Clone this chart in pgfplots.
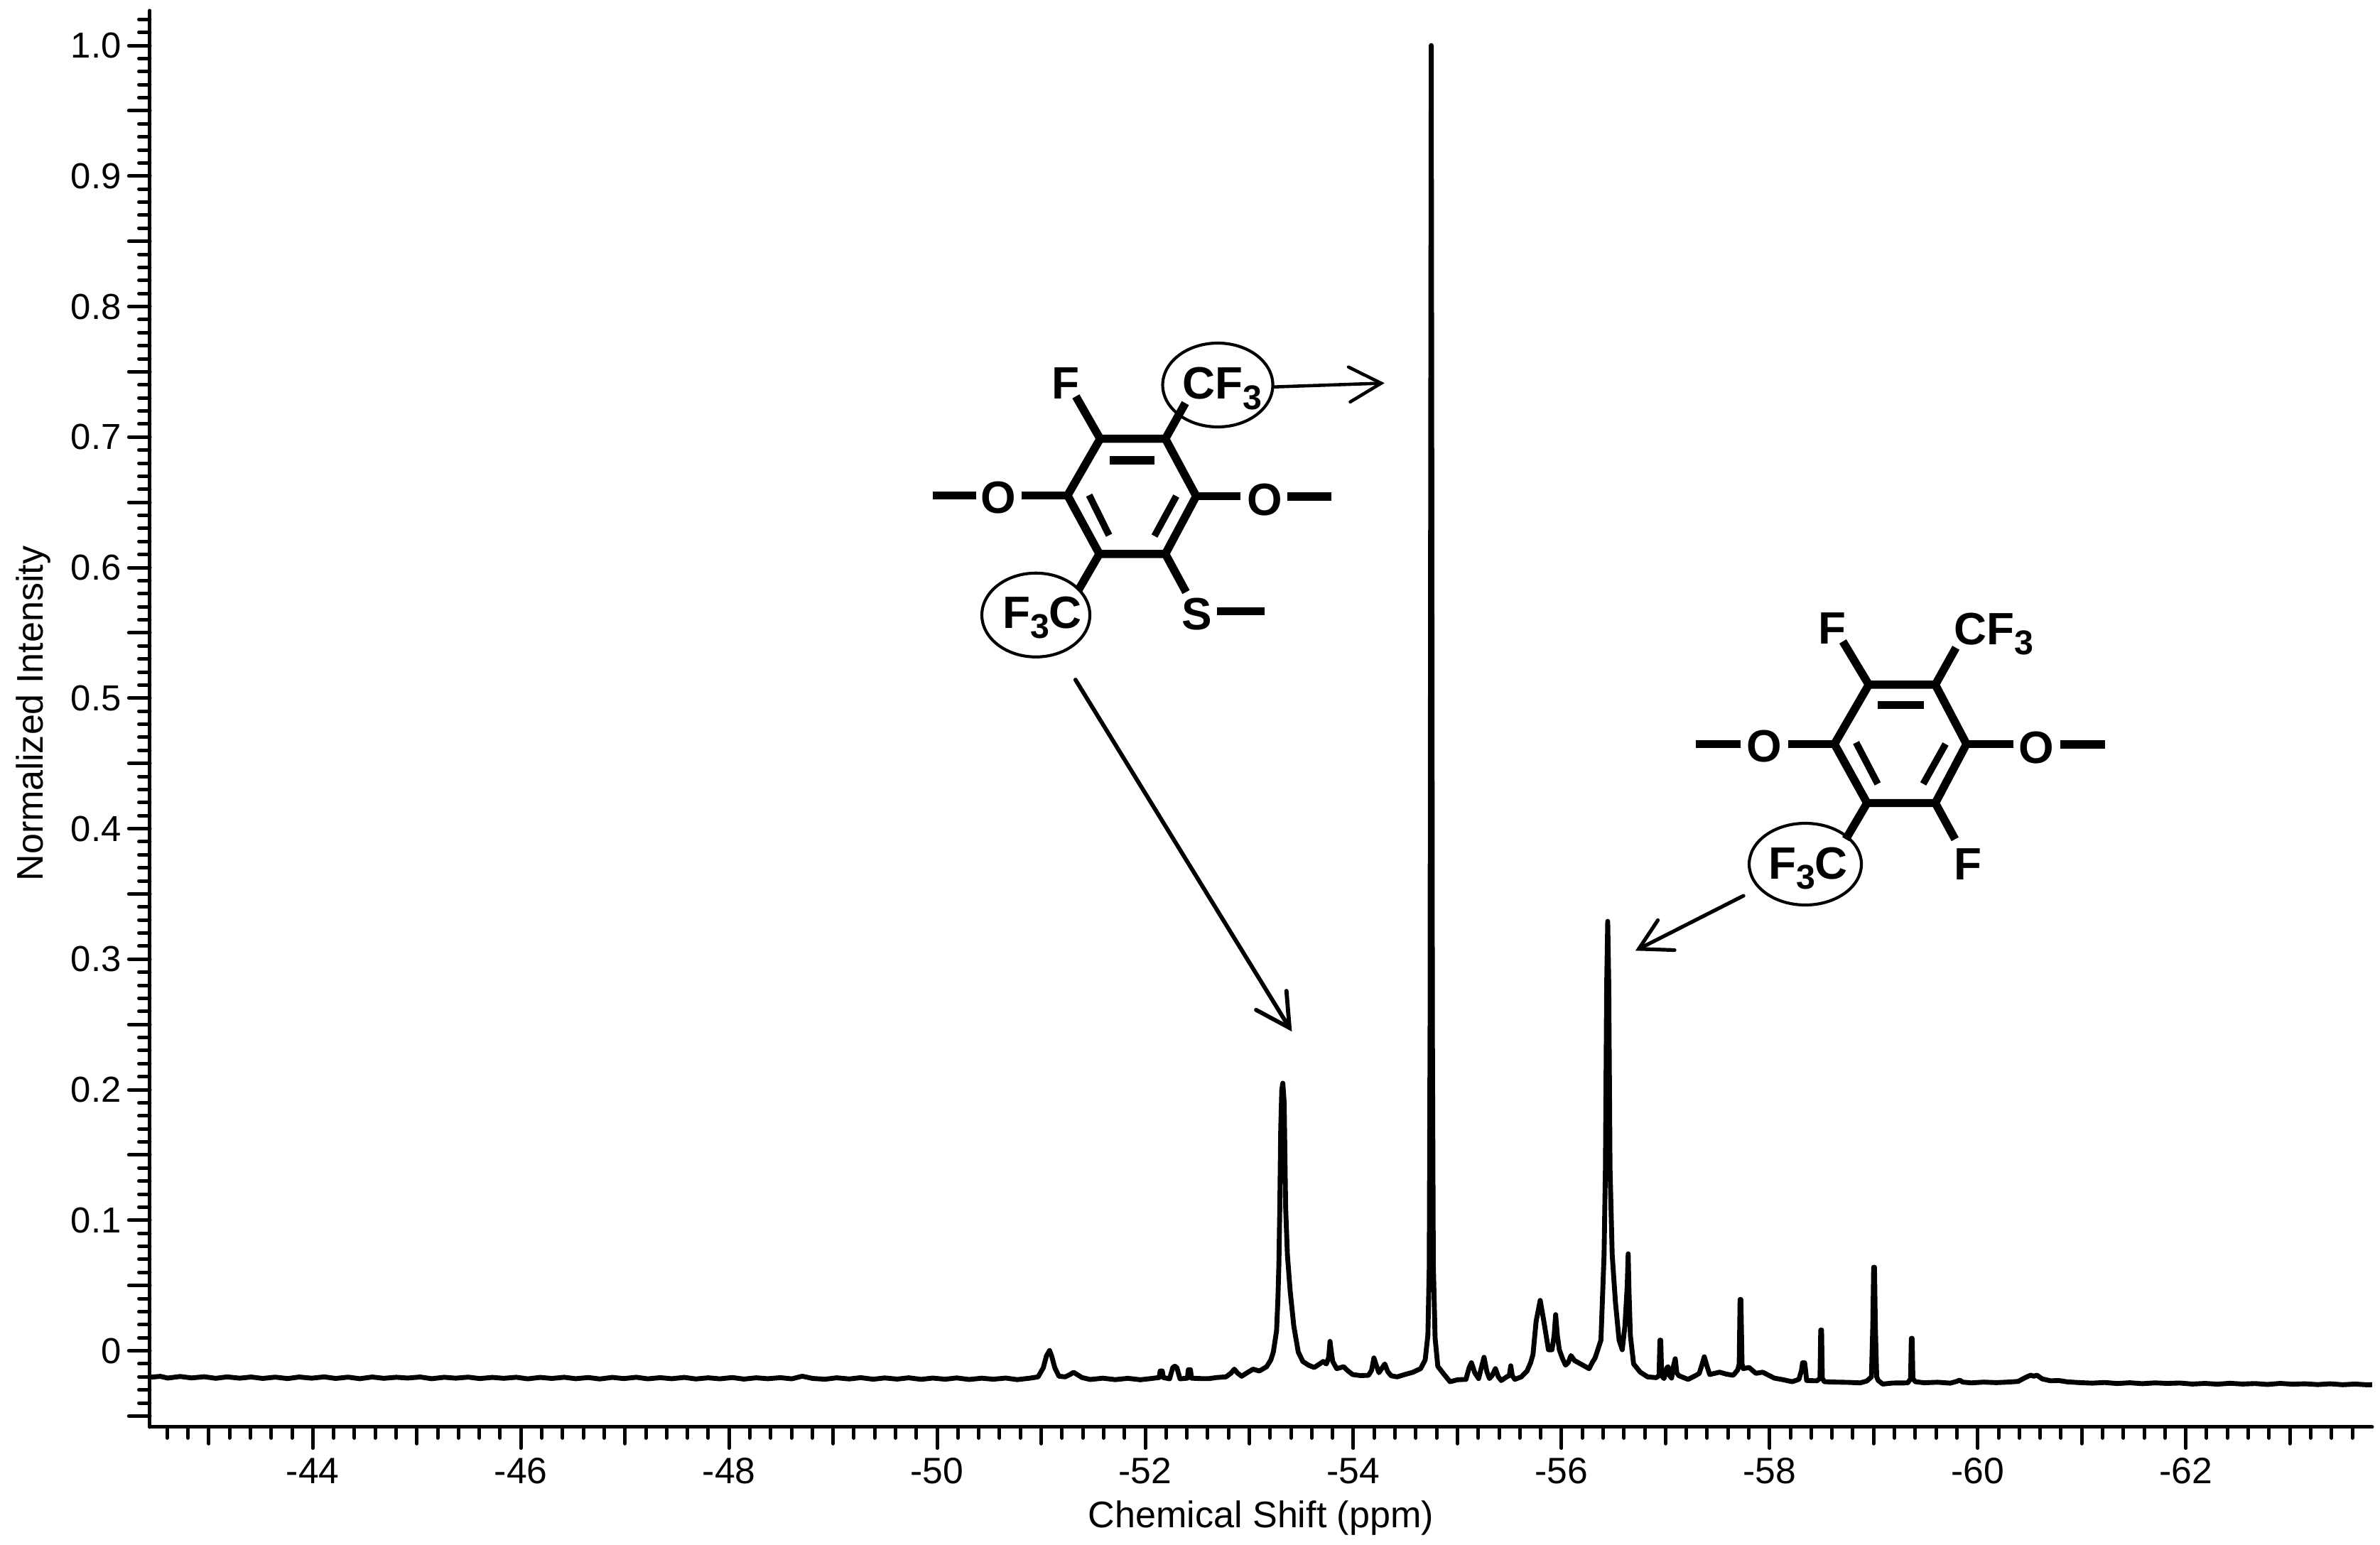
\documentclass[border=0pt]{standalone}
\usepackage{fontspec}
\setmainfont{Liberation Sans}
\usepackage{pgfplots}
\usepackage{pgfplotstable}
\pgfplotsset{compat=1.18}
\pgfplotstableread{
x y
-42.45 -.0203
-42.55 -.0196
-42.62 -.0209
-42.74 -.0197
-42.85 -.0208
-42.97 -.0199
-43.08 -.0211
-43.19 -.0200
-43.31 -.0210
-43.42 -.0201
-43.53 -.0212
-43.65 -.0202
-43.77 -.0213
-43.88 -.0201
-44.00 -.0210
-44.12 -.0200
-44.23 -.0212
-44.35 -.0202
-44.46 -.0214
-44.58 -.0201
-44.69 -.0211
-44.81 -.0203
-44.92 -.0209
-45.04 -.0201
-45.15 -.0214
-45.27 -.0203
-45.38 -.0210
-45.50 -.0202
-45.61 -.0213
-45.73 -.0204
-45.84 -.0211
-45.96 -.0203
-46.07 -.0215
-46.19 -.0204
-46.30 -.0212
-46.42 -.0203
-46.53 -.0214
-46.65 -.0205
-46.76 -.0216
-46.88 -.0204
-46.99 -.0213
-47.11 -.0203
-47.22 -.0215
-47.34 -.0206
-47.45 -.0214
-47.57 -.0204
-47.68 -.0216
-47.80 -.0207
-47.91 -.0215
-48.03 -.0205
-48.14 -.0217
-48.26 -.0207
-48.37 -.0214
-48.49 -.0206
-48.60 -.0215
-48.70 -.0195
-48.80 -.0212
-48.92 -.0218
-49.03 -.0207
-49.15 -.0216
-49.26 -.0206
-49.38 -.0218
-49.49 -.0208
-49.61 -.0217
-49.72 -.0207
-49.84 -.0219
-49.95 -.0209
-50.07 -.0218
-50.18 -.0208
-50.30 -.0220
-50.42 -.0210
-50.53 -.0218
-50.65 -.0209
-50.76 -.0221
-50.88 -.0210
-50.96 -.0200
-51.01 -.0130
-51.04 -.0040
-51.07 .0002
-51.09 -.0040
-51.12 -.0130
-51.16 -.0195
-51.22 -.0200
-51.27 -.0180
-51.30 -.0165
-51.33 -.0180
-51.38 -.0205
-51.46 -.0220
-51.58 -.0210
-51.70 -.0221
-51.82 -.0211
-51.94 -.0222
-52.05 -.0212
-52.12 -.0205
-52.13 -.0155
-52.15 -.0155
-52.16 -.0205
-52.22 -.0215
-52.25 -.0130
-52.27 -.0118
-52.29 -.0130
-52.32 -.0215
-52.39 -.0210
-52.40 -.0145
-52.42 -.0145
-52.43 -.0210
-52.52 -.0213
-52.60 -.0213
-52.67 -.0205
-52.76 -.0200
-52.81 -.0170
-52.84 -.0141
-52.87 -.0170
-52.91 -.0195
-52.97 -.0165
-53.02 -.0141
-53.08 -.0155
-53.15 -.0122
-53.19 -.0070
-53.214 -.0010
-53.245 .0153
-53.258 .0400
-53.267 .0653
-53.276 .1097
-53.285 .1700
-53.295 .2000
-53.305 .2050
-53.318 .1900
-53.332 .1097
-53.349 .0734
-53.375 .0462
-53.41 .0190
-53.453 -.0010
-53.497 -.0082
-53.55 -.0110
-53.605 -.0128
-53.65 -.0105
-53.692 -.0082
-53.722 -.0101
-53.745 -.0050
-53.757 .0072
-53.768 .0000
-53.783 -.0082
-53.822 -.0137
-53.887 -.0122
-53.93 -.0155
-53.974 -.0182
-54.05 -.0190
-54.126 -.0188
-54.155 -.0150
-54.178 -.0055
-54.20 -.0110
-54.226 -.0168
-54.282 -.0101
-54.31 -.0160
-54.343 -.0191
-54.40 -.0200
-54.473 -.0182
-54.55 -.0165
-54.625 -.0137
-54.669 -.0070
-54.695 .0120
-54.708 .0643
-54.716 .2500
-54.722 .7000
-54.727 1.0000
-54.732 .7000
-54.738 .2500
-54.747 .0660
-54.764 .0099
-54.79 -.0119
-54.842 -.0173
-54.907 -.0237
-54.98 -.0222
-55.06 -.0219
-55.09 -.0130
-55.112 -.0092
-55.145 -.0170
-55.181 -.0213
-55.21 -.0120
-55.233 -.0050
-55.26 -.0160
-55.285 -.0213
-55.31 -.0190
-55.342 -.0137
-55.37 -.0200
-55.398 -.0228
-55.45 -.0200
-55.475 -.0190
-55.489 -.0115
-55.503 -.0190
-55.528 -.0219
-55.59 -.0200
-55.645 -.0155
-55.68 -.0090
-55.702 -.0028
-55.732 .0226
-55.771 .0386
-55.806 .0226
-55.85 .0008
-55.884 .0008
-55.905 .0120
-55.919 .0277
-55.935 .0120
-55.954 .0008
-55.985 -.0060
-56.014 -.0110
-56.04 -.0090
-56.066 -.0037
-56.10 -.0075
-56.166 -.0104
-56.24 -.0137
-56.27 -.0090
-56.297 -.0055
-56.353 .0081
-56.383 .0734
-56.396 .1400
-56.408 .2800
-56.418 .3290
-56.428 .2800
-56.44 .1400
-56.461 .0734
-56.492 .0371
-56.527 .0081
-56.557 .0008
-56.583 .0190
-56.605 .0500
-56.614 .0743
-56.622 .0450
-56.635 .0117
-56.666 -.0101
-56.73 -.0164
-56.80 -.0200
-56.883 -.0206
-56.91 -.0190
-56.918 .0081
-56.926 .0081
-56.935 -.0190
-56.957 -.0213
-56.985 -.0130
-56.997 -.0122
-57.01 -.0190
-57.03 -.0209
-57.05 -.0110
-57.065 -.0061
-57.08 -.0170
-57.10 -.0191
-57.187 -.0219
-57.26 -.0190
-57.295 -.0173
-57.32 -.0110
-57.343 -.0046
-57.37 -.0120
-57.395 -.0182
-57.49 -.0164
-57.55 -.0178
-57.62 -.0188
-57.664 -.0146
-57.678 -.0100
-57.686 .0393
-57.694 .0393
-57.705 -.0100
-57.716 -.0137
-57.772 -.0128
-57.838 -.0173
-57.903 -.0164
-58.012 -.0209
-58.10 -.0222
-58.185 -.0237
-58.25 -.0219
-58.275 -.0150
-58.285 -.0092
-58.305 -.0092
-58.315 -.0160
-58.324 -.0228
-58.424 -.0230
-58.452 -.0210
-58.459 .0159
-58.467 .0159
-58.474 -.0210
-58.493 -.0237
-58.60 -.0240
-58.72 -.0242
-58.836 -.0246
-58.90 -.0232
-58.945 -.0200
-58.958 .0200
-58.966 .0640
-58.974 .0640
-58.982 .0200
-58.995 -.0200
-59.01 -.0228
-59.053 -.0255
-59.15 -.0247
-59.292 -.0246
-59.32 -.0215
-59.327 .0095
-59.335 .0095
-59.342 -.0215
-59.366 -.0237
-59.45 -.0245
-59.58 -.0241
-59.70 -.0248
-59.76 -.0235
-59.79 -.0225
-59.82 -.0240
-59.90 -.0246
-60.02 -.0240
-60.14 -.0244
-60.25 -.0240
-60.35 -.0235
-60.42 -.0205
-60.47 -.0187
-60.50 -.0195
-60.53 -.0187
-60.58 -.0215
-60.66 -.0230
-60.74 -.0228
-60.82 -.0238
-60.94 -.0244
-61.06 -.0248
-61.18 -.0243
-61.30 -.0251
-61.42 -.0245
-61.54 -.0252
-61.66 -.0246
-61.78 -.0250
-61.90 -.0247
-62.02 -.0255
-62.14 -.0250
-62.26 -.0256
-62.38 -.0249
-62.50 -.0255
-62.62 -.0251
-62.74 -.0258
-62.86 -.0250
-62.98 -.0256
-63.10 -.0253
-63.22 -.0259
-63.34 -.0253
-63.46 -.0260
-63.58 -.0255
-63.70 -.0261
-63.79 -.0258
}\spectrum
\tikzset{
  bond/.style={line width=2.75pt, line cap=butt, line join=miter},
  inner/.style={line width=2.3pt, line cap=butt},
  ring/.style={line width=1pt},
  arr/.style={line width=1.1pt, line cap=round, line join=miter},
  atom/.style={anchor=base, inner sep=0pt, font=\fontsize{15.3pt}{18pt}\selectfont\bfseries},
}
\newcommand{\sub}[1]{\raisebox{-3.4pt}{\fontsize{11.6pt}{14pt}\selectfont #1}}
\begin{document}
\begin{tikzpicture}
\path[use as bounding box] (-50.64pt,-39.84pt) rectangle (753.36pt,482.16pt);
\begin{axis}[
  at={(0pt,0pt)}, anchor=south west,
  scale only axis,
  width=750.72pt, height=478.56pt,
  x dir=reverse,
  xmin=-63.791, xmax=-42.434,
  ymin=-0.05846, ymax=1.0267,
  axis x line=bottom, axis y line=left,
  axis line style={line width=1.2pt, -, line cap=round},
  tick align=outside,
  tick style={black, line width=1.2pt, line cap=round},
  major tick length=7.1pt,
  minor tick length=3.7pt,
  xtick={-44,-46,-48,-50,-52,-54,-56,-58,-60,-62},
  xticklabels={-44,-46,-48,-50,-52,-54,-56,-58,-60,-62},
  minor xtick={-63.6,-63.4,...,-42.5},
  extra x ticks={-43,-45,-47,-49,-51,-53,-55,-57,-59,-61,-63},
  extra x tick labels={},
  extra x tick style={major tick length=5.6pt},
  ytick={0,0.1,0.2,0.3,0.4,0.5,0.6,0.7,0.8,0.9,1.0},
  yticklabels={0,0.1,0.2,0.3,0.4,0.5,0.6,0.7,0.8,0.9,1.0},
  minor ytick={-0.05,-0.04,...,1.025},
  extra y ticks={-0.05,0.05,0.15,0.25,0.35,0.45,0.55,0.65,0.75,0.85,0.95},
  extra y tick labels={},
  extra y tick style={major tick length=7.1pt},
  tick label style={inner sep=0pt},
  xticklabel style={yshift=-3.2pt, font=\fontsize{12.4pt}{14pt}\selectfont},
  yticklabel style={xshift=-2.4pt, font=\fontsize{12.2pt}{14pt}\selectfont},
  xlabel={Chemical Shift (ppm)},
  ylabel={Normalized Intensity},
  label style={font=\fontsize{12.5pt}{15pt}\selectfont, inner sep=0pt},
  x label style={at={(axis description cs:0.5,0)}, anchor=north, yshift=-24.8pt},
  y label style={at={(axis description cs:0,0.5)}, anchor=center, rotate=0, yshift=39.4pt, xshift=1.8pt},
]
% the table holds ppm as first read; x expr applies the calibration to the tick positions
\addplot[black, line width=1.65pt, line join=round, no marks] table[x expr={1.003004*\thisrow{x}+0.1431},y=y] {\spectrum};
\end{axis}
\begin{scope}[shift={(-50.64pt,482.16pt)}, x=0.24pt, y=-0.24pt]
  % first structure
  \draw[bond] (1548.5,617.7)--(1640.3,617.7)--(1683.7,698.4)--(1640.3,779.8)--(1547.4,779.8)--(1502.6,697.4)--cycle;
  \draw[inner,line width=2.8pt] (1562,648)--(1625,648);
  \draw[inner] (1533,697)--(1561,753.5);
  \draw[inner] (1655.6,698.4)--(1625,754.6);
  \draw[bond] (1548.5,617.7)--(1514.3,558);
  \draw[bond] (1640.3,617.7)--(1668.4,567.5);
  \draw[bond] (1502.6,697.4)--(1437.8,697.4);
  \draw[bond] (1312.8,697.7)--(1374,697.7);
  \draw[bond] (1683.7,698.4)--(1746,698.4);
  \draw[bond] (1812,699)--(1873.5,699);
  \draw[bond] (1547.4,779.8)--(1517.9,830.7);
  \draw[bond] (1640.3,779.8)--(1669.4,833.5);
  \draw[bond] (1713,860.5)--(1779.6,860.5);
  \node[atom] at (1500,562) {F};
  \node[atom] at (1720,562) {CF\sub{3}};
  \node[atom] at (1405.6,723) {O};
  \node[atom] at (1780.6,725.4) {O};
  \node[atom] at (1467,884) {F\sub{3}C};
  \node[atom] at (1685,886) {S};
  \draw[ring] (1714,542) ellipse [x radius=77.5, y radius=59];
  \draw[ring] (1458,865.8) ellipse [x radius=76, y radius=59];
  \draw[arr] (1793.4,544.7)--(1944,539.5);
  \draw[arr] (1898,516.7)--(1944,539.5)--(1900.5,565.8);
  \draw[arr,line width=1.4pt] (1513.8,957)--(1815,1447);
  \draw[arr,line width=1.4pt] (1810.7,1395)--(1815,1447)--(1768,1421.7);
  % second structure
  \draw[bond] (2630.4,963.9)--(2724,963.9)--(2767.9,1047.4)--(2724,1130.5)--(2628,1130.5)--(2582,1047.4)--cycle;
  \draw[inner,line width=2.8pt] (2642.9,992.4)--(2707.6,992.4);
  \draw[inner] (2612.5,1045.3)--(2642.9,1103.5);
  \draw[inner] (2738.4,1047.4)--(2707,1103.5);
  \draw[bond] (2630.4,963.9)--(2593.8,903);
  \draw[bond] (2724,963.9)--(2753,911.9);
  \draw[bond] (2582,1047.4)--(2516.5,1047.4);
  \draw[bond] (2387,1047.4)--(2449.6,1047.4);
  \draw[bond] (2767.9,1047.4)--(2833.5,1047.4);
  \draw[bond] (2900.4,1048)--(2963,1048);
  \draw[bond] (2628,1130.5)--(2598,1181.4);
  \draw[bond] (2724,1130.5)--(2751.8,1181.4);
  \node[atom] at (2579,906.7) {F};
  \node[atom] at (2806,907.7) {CF\sub{3}};
  \node[atom] at (2483,1072.6) {O};
  \node[atom] at (2866,1074.4) {O};
  \node[atom] at (2545,1237.5) {F\sub{3}C};
  \node[atom] at (2769.6,1238.6) {F};
  \draw[ring] (2541,1216.5) ellipse [x radius=79, y radius=57.5];
  \draw[arr,line width=1.25pt] (2454,1261)--(2306.7,1335.8);
  \draw[arr,line width=1.25pt] (2333.5,1295.4)--(2306.7,1335.8)--(2357,1337.5);
\end{scope}
\end{tikzpicture}
\end{document}
